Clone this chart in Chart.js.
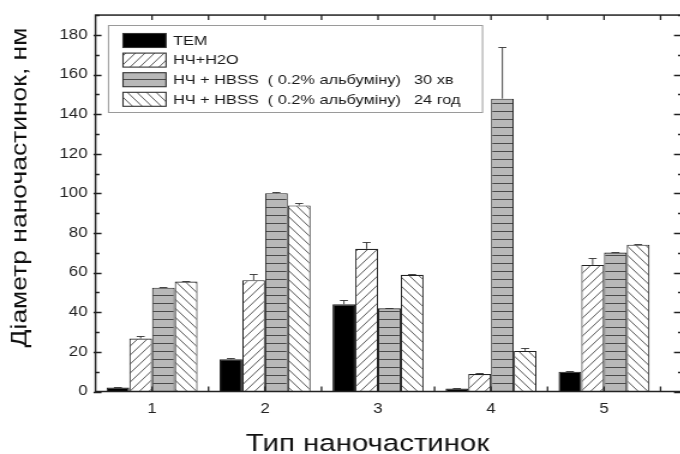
<!DOCTYPE html>
<html><head><meta charset="utf-8">
<script src="https://cdn.jsdelivr.net/npm/chart.js@4.4.1/dist/chart.umd.min.js"></script>
<style>
html,body{margin:0;padding:0;overflow:hidden;background:#fff;width:680px;height:454px}
#wrap{transform:scaleX(1.2);transform-origin:0 0;width:570px;height:454px}
canvas{display:block}
</style>
</head><body>
<div id="wrap"><canvas id="c" width="570" height="454" style="width:570px;height:454px"></canvas></div>
<script>
// ---- data ----
const categories = [1, 2, 3, 4, 5];
const xTickLabels = ['1', '2', '3', '4', '5'];
const yTickLabels = [0, 20, 40, 60, 80, 100, 120, 140, 160, 180];
const seriesNames = ['TEM', 'НЧ+H2O', 'НЧ + HBSS  ( 0.2% альбуміну)', 'НЧ + HBSS  ( 0.2% альбуміну)'];
const seriesSuffix = ['', '', '30 хв', '24 год'];
const temValues = [2, 16.3, 44, 1.5, 10];
const temErrors = [0.2, 0.8, 2, 0.2, 0.3];
const h2oValues = [26.7, 56.2, 72, 8.8, 63.9];
const h2oErrors = [1.2, 3, 3.5, 0.5, 3.3];
const hbss30Values = [52.4, 100.1, 42, 147.8, 70.1];
const hbss30Errors = [0.4, 0.8, 0.3, 26, 0.5];
const hbss24Values = [55.5, 93.9, 58.9, 20.5, 74.1];
const hbss24Errors = [0.3, 1.3, 0.5, 1.5, 0.3];
const xTitle = 'Тип наночастинок';
const yTitle = 'Діаметр наночастинок, нм';

const FONT = "'Liberation Sans', Arial, sans-serif";
const SX = 1.2; // horizontal stretch applied by CSS

function makePattern(kind) {
  const w = 8, h = 9;
  const p = document.createElement('canvas');
  p.width = w; p.height = (kind === 'horiz') ? 8 : h;
  const g = p.getContext('2d');
  if (kind === 'solid') { g.fillStyle = '#000'; g.fillRect(0, 0, w, h); }
  else if (kind === 'horiz') {
    g.fillStyle = '#b8b8b8'; g.fillRect(0, 0, w, 8);
    g.fillStyle = '#4a4a4a'; g.fillRect(0, 7, w, 1);
  } else {
    g.fillStyle = '#fff'; g.fillRect(0, 0, w, h);
    g.strokeStyle = '#5a5a5a'; g.lineWidth = 1;
    g.beginPath();
    if (kind === 'fwd') {
      for (let k = -1; k <= 1; k++) { g.moveTo(k * w, h); g.lineTo(k * w + w, 0); }
    } else {
      for (let k = -1; k <= 1; k++) { g.moveTo(k * w, 0); g.lineTo(k * w + w, h); }
    }
    g.stroke();
  }
  return g.createPattern(p, 'repeat');
}

const ctx = document.getElementById('c').getContext('2d');
const fills = [makePattern('solid'), makePattern('fwd'), makePattern('horiz'), makePattern('back')];
const valueSets = [temValues, h2oValues, hbss30Values, hbss24Values];
const errorSets = [temErrors, h2oErrors, hbss30Errors, hbss24Errors];

const datasets = valueSets.map((vals, i) => ({
  label: seriesNames[i] + (seriesSuffix[i] ? '   ' + seriesSuffix[i] : ''),
  data: categories.map((c, j) => ({ x: c, y: vals[j] })),
  errors: errorSets[i],
  backgroundColor: fills[i],
  borderColor: '#222',
  borderWidth: 1.1,
  categoryPercentage: 0.805,
  barPercentage: 1.0
}));

const frameTicks = {
  id: 'frameTicks',
  beforeDatasetsDraw(chart) {
    const { ctx: c, chartArea: a, scales: { x, y } } = chart;
    c.save();
    c.strokeStyle = '#222'; c.lineWidth = 1.3;
    c.beginPath();
    for (let v = 0; v <= 190; v += 10) {
      const py = Math.round(y.getPixelForValue(v)) + 0.5;
      const major = v % 20 === 0;
      c.moveTo(a.left - (major ? 2 / SX : 0), py); c.lineTo(a.left + (major ? 6 : 4) / SX, py);
      c.moveTo(a.right, py); c.lineTo(a.right - (major ? 8 : 4) / SX, py);
    }
    for (let v = 1; v <= 5.5; v += 0.5) {
      const px = x.getPixelForValue(v);
      c.moveTo(px, a.top); c.lineTo(px, a.top + 5);
      c.moveTo(px, a.bottom); c.lineTo(px, a.bottom - 5);
    }
    c.stroke();
    c.restore();
  },
  afterDatasetsDraw(chart) {
    const { ctx: c, scales: { y } } = chart;
    c.save();
    c.strokeStyle = '#333'; c.lineWidth = 0.9;
    chart.data.datasets.forEach((ds, i) => {
      const meta = chart.getDatasetMeta(i);
      meta.data.forEach((el, j) => {
        const e = ds.errors[j];
        const top = Math.round(y.getPixelForValue(ds.data[j].y + e)) + 0.5;
        const px = el.x;
        c.beginPath();
        c.moveTo(px, el.y); c.lineTo(px, top);
        c.moveTo(px - 4 / SX, top); c.lineTo(px + 4 / SX, top);
        c.stroke();
      });
    });
    c.restore();
  },
  afterDraw(chart) {
    const { ctx: c, chartArea: a } = chart;
    c.save();
    c.strokeStyle = '#222'; c.lineWidth = 1.5;
    c.strokeRect(a.left, a.top, a.right - a.left, a.bottom - a.top);
    // legend
    const lx = 108.5 / SX, ly = 25.5, lw = 374 / SX, lh = 87;
    c.fillStyle = '#fff'; c.fillRect(lx, ly, lw, lh);
    c.strokeStyle = '#9a9a9a'; c.lineWidth = 1; c.strokeRect(lx, ly, lw, lh);
    c.font = '13.6px ' + FONT; c.textBaseline = 'middle';
    chart.data.datasets.forEach((ds, i) => {
      const cy = 40.5 + i * 19.6;
      c.fillStyle = ds.backgroundColor;
      c.fillRect(123 / SX, cy - 7, 43 / SX, 14);
      c.strokeStyle = '#333'; c.lineWidth = 1.1;
      c.strokeRect(123 / SX, cy - 7, 43 / SX, 14);
      c.fillStyle = '#1a1a1a';
      c.fillText(seriesNames[i], 173 / SX, cy + 0.5);
      if (seriesSuffix[i]) c.fillText(seriesSuffix[i], 414 / SX, cy + 0.5);
    });
    // axis titles
    c.fillStyle = '#111';
    c.font = '24.5px ' + FONT; c.textAlign = 'center'; c.textBaseline = 'alphabetic';
    c.fillText(xTitle, 367.5 / SX, 450.5);
    c.save();
    c.translate(26 / SX, 187.5); c.rotate(-Math.PI / 2);
    c.scale(1.26, 1 / SX);
    c.font = '21px ' + FONT;
    c.fillText(yTitle, 0, 0);
    c.restore();
    c.restore();
  }
};

new Chart(ctx, {
  type: 'bar',
  data: { datasets },
  options: {
    responsive: false,
    animation: false,
    layout: { padding: { top: 12.5, right: 570 - 682 / SX, left: 0, bottom: 0 } },
    plugins: { legend: { display: false }, tooltip: { enabled: false } },
    scales: {
      x: {
        type: 'linear', min: 0.5, max: 5.69, offset: false,
        grid: { display: false, drawTicks: false, offset: false },
        border: { display: false },
        afterBuildTicks: s => { s.ticks = categories.map(v => ({ value: v })); },
        afterFit: s => { s.height = 62.5; },
        ticks: {
          padding: 9, color: '#222', font: { family: FONT, size: 14 },
          callback: (v) => xTickLabels[categories.indexOf(v)] ?? ''
        }
      },
      y: {
        min: 0, max: 190,
        grid: { display: false, drawTicks: false },
        border: { display: false },
        afterBuildTicks: s => { s.ticks = yTickLabels.map(v => ({ value: v })); },
        afterFit: s => { s.width = 95.5 / SX; },
        ticks: {
          padding: 8 / SX, color: '#222', font: { family: FONT, size: 14 },
          callback: v => String(v)
        }
      }
    }
  },
  plugins: [frameTicks]
});
</script>
</body></html>
